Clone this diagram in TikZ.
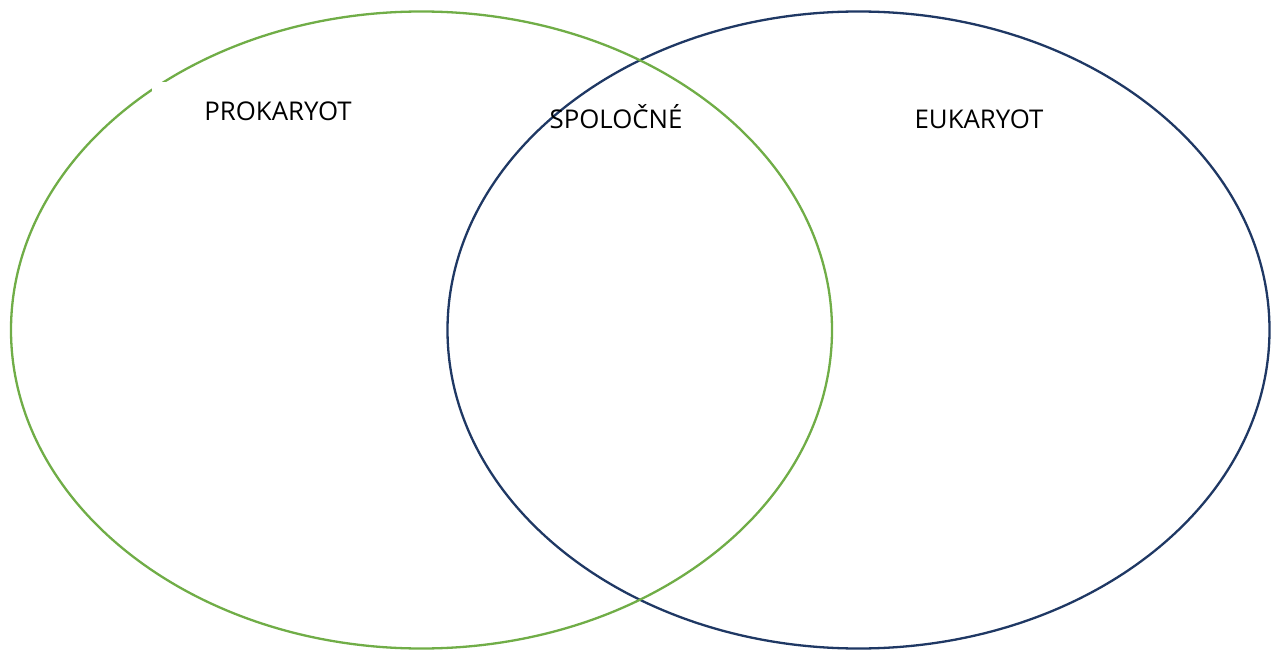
\documentclass[tikz,border=0pt]{standalone}
\usepackage{fontspec}
\setmainfont{Open Sans}
\definecolor{vgreen}{HTML}{70AD47}
\definecolor{vblue}{HTML}{1F3864}
\begin{document}
\begin{tikzpicture}[x=1pt,y=-1pt,
  lbl/.style={font=\fontsize{25.8}{30}\selectfont, text=black, inner sep=0pt},
  ring/.style={line width=2.3pt}]
\useasboundingbox (0,0) rectangle (1280,650);
\draw[ring, vblue] (858.5,330) ellipse [x radius=411, y radius=318.5];
\draw[ring, vgreen] (421.5,330) ellipse [x radius=410.5, y radius=318.5];
\fill[white] (152,82) rectangle (360,138);
\node[lbl] (pro) at (278,111) {PROKARYOT};
\node[lbl] (spo) at (616,117) {SPOLOČNÉ};
\node[lbl] (euk) at (979,119) {EUKARYOT};
\end{tikzpicture}
\end{document}
